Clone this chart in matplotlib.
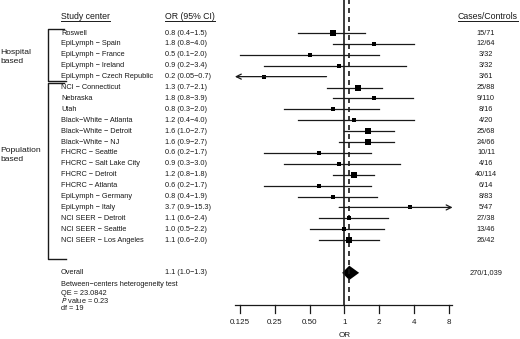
import matplotlib
matplotlib.use("Agg")
import matplotlib.pyplot as plt
from matplotlib import transforms
from matplotlib.lines import Line2D
import numpy as np

plt.rcParams["font.family"] = ["Liberation Sans", "DejaVu Sans"]

# --- data ---
centers = [
    "Roswell", "EpiLymph − Spain", "EpiLymph − France", "EpiLymph − Ireland",
    "EpiLymph − Czech Republic", "NCI − Connecticut", "Nebraska", "Utah",
    "Black−White − Atlanta", "Black−White − Detroit", "Black−White − NJ",
    "FHCRC − Seattle", "FHCRC − Salt Lake City", "FHCRC − Detroit",
    "FHCRC − Atlanta", "EpiLymph − Germany", "EpiLymph − Italy",
    "NCI SEER − Detroit", "NCI SEER − Seattle", "NCI SEER − Los Angeles",
]
odds = [0.8, 1.8, 0.5, 0.9, 0.2, 1.3, 1.8, 0.8, 1.2, 1.6, 1.6, 0.6, 0.9, 1.2,
        0.6, 0.8, 3.7, 1.1, 1.0, 1.1]
lower = [0.4, 0.8, 0.1, 0.2, 0.05, 0.7, 0.8, 0.3, 0.4, 1.0, 0.9, 0.2, 0.3, 0.8,
         0.2, 0.4, 0.9, 0.6, 0.5, 0.6]
upper = [1.5, 4.0, 2.0, 3.4, 0.7, 2.1, 3.9, 2.0, 4.0, 2.7, 2.7, 1.7, 3.0, 1.8,
         1.7, 1.9, 15.3, 2.4, 2.2, 2.0]
ci_text = ["0.8 (0.4−1.5)", "1.8 (0.8−4.0)", "0.5 (0.1−2.0)", "0.9 (0.2−3.4)",
           "0.2 (0.05−0.7)", "1.3 (0.7−2.1)", "1.8 (0.8−3.9)", "0.8 (0.3−2.0)",
           "1.2 (0.4−4.0)", "1.6 (1.0−2.7)", "1.6 (0.9−2.7)", "0.6 (0.2−1.7)",
           "0.9 (0.3−3.0)", "1.2 (0.8−1.8)", "0.6 (0.2−1.7)", "0.8 (0.4−1.9)",
           "3.7 (0.9−15.3)", "1.1 (0.6−2.4)", "1.0 (0.5−2.2)", "1.1 (0.6−2.0)"]
cases_controls = ["15/71", "12/64", "3/32", "3/32", "3/61", "25/88", "9/110",
                  "8/16", "4/20", "25/68", "24/66", "10/11", "4/16", "40/114",
                  "6/14", "8/83", "5/47", "27/38", "13/46", "26/42"]
# box side in pixels (study weight)
weights = [5.2, 4.3, 3.3, 3.6, 3.2, 6.0, 5.0, 4.3, 3.8, 6.0, 5.7, 4.0, 3.6, 6.6,
           3.8, 4.6, 3.2, 4.6, 4.3, 5.3]

overall_or, overall_lo, overall_hi = 1.1, 1.0, 1.3
overall_text = "1.1 (1.0−1.3)"
overall_cc = "270/1,039"
hetero_lines = ["Between−centers heterogeneity test", "QE = 23.0842",
                r"$\it{P}$ value = 0.23", "df = 19"]
ticks = [0.125, 0.25, 0.5, 1, 2, 4, 8]
tick_labels = ["0.125", "0.25", "0.50", "1", "2", "4", "8"]

W, H = 520, 339
fig = plt.figure(figsize=(W / 100, H / 100), dpi=100)
ax = fig.add_axes([0, 0, 1, 1])
ax.set_xscale("log", base=2)
ax.set_xlim(2 ** -9.89, 2 ** 5.04)
ax.set_ylim(28.07, -3.03)
ax.axis("off")

# x in figure pixels, y in row units
tr = transforms.blended_transform_factory(
    transforms.Affine2D().scale(1 / W, 1) + fig.transFigure, ax.transData)

ink = "#1a1a1a"
fs = 5.3
rows = np.arange(len(centers))
xmin, xmax = ticks[0], ticks[-1]
y_axis = 24.95
y_overall = 22

# reference lines
ax.plot([1, 1], [-3.1, y_axis], color=ink, lw=1.2)
ax.plot([overall_or, overall_or], [-3.1, y_axis], color=ink, lw=1.2,
        ls=(0, (3, 2.4)))

for r, est, lo, hi, w in zip(rows, odds, lower, upper, weights):
    lo_c, hi_c = max(lo, xmin), min(hi, xmax)
    if lo < xmin * 0.6:
        ax.annotate("", xy=(0.113, r), xytext=(hi, r),
                    arrowprops=dict(arrowstyle="->", lw=0.9, color=ink,
                                    mutation_scale=9, shrinkA=0, shrinkB=0))
    elif hi > xmax:
        ax.annotate("", xy=(8.6, r), xytext=(lo, r),
                    arrowprops=dict(arrowstyle="->", lw=0.9, color=ink,
                                    mutation_scale=9, shrinkA=0, shrinkB=0))
    else:
        ax.plot([lo_c, hi_c], [r, r], color=ink, lw=0.9)
    ax.plot(est, r, marker="s", ms=w / 1.39, color="black", mec="black", mew=0)

# overall diamond
dh = 0.66
ax.fill([overall_lo * 0.955, overall_or, overall_hi * 1.03, overall_or],
        [y_overall, y_overall - dh, y_overall, y_overall + dh],
        color="black", lw=0)

# x axis
ax.plot([2 ** -3.14, 2 ** 3.08], [y_axis, y_axis], color=ink, lw=0.9)
for t, lab in zip(ticks, tick_labels):
    ax.plot([t, t], [y_axis, y_axis + 0.75], color=ink, lw=0.9)
    ax.text(t, 26.6, lab, ha="center", va="center", fontsize=5.8, color=ink)
ax.text(1, 27.75, "OR", ha="center", va="center", fontsize=5.9, color=ink)

# text columns
for r, name, ci, cc in zip(rows, centers, ci_text, cases_controls):
    ax.text(61, r, name, transform=tr, ha="left", va="center", fontsize=fs,
            color=ink)
    ax.text(165, r, ci, transform=tr, ha="left", va="center", fontsize=fs,
            color=ink)
    ax.text(486, r, cc, transform=tr, ha="center", va="center", fontsize=fs,
            color=ink)
ax.text(61, y_overall, "Overall", transform=tr, ha="left", va="center",
        fontsize=fs, color=ink)
ax.text(165, y_overall, overall_text, transform=tr, ha="left", va="center",
        fontsize=fs, color=ink)
ax.text(486, y_overall, overall_cc, transform=tr, ha="center", va="center",
        fontsize=fs, color=ink)
for yy, line in zip([23.1, 23.85, 24.55, 25.25], hetero_lines):
    ax.text(61, yy, line, transform=tr, ha="left", va="center", fontsize=fs,
            color=ink)

# headers, underlined
heads = [
    ax.text(61, -1.56, "Study center", transform=tr, ha="left", va="center",
            fontsize=6.3, color=ink),
    ax.text(165, -1.56, "OR (95% CI)", transform=tr, ha="left", va="center",
            fontsize=6.3, color=ink),
    ax.text(488, -1.56, "Cases/Controls", transform=tr, ha="center",
            va="center", fontsize=6.3, color=ink),
]
fig.canvas.draw()
for h in heads:
    bb = h.get_window_extent()
    fig.add_artist(Line2D([bb.x0 / W, bb.x1 / W],
                          [(H - 20.5) / H, (H - 20.5) / H],
                          transform=fig.transFigure, color=ink, lw=0.7))

# group brackets
for top, bot in [(-0.37, 4.4), (4.6, 20.7)]:
    ax.plot([64, 48, 48, 66], [top, top, bot, bot], transform=tr, color=ink,
            lw=1.0)
ax.text(0, 2.2, "Hospital\nbased", transform=tr, ha="left", va="center",
        fontsize=6.1, color=ink, linespacing=1.25)
ax.text(0, 11.2, "Population\nbased", transform=tr, ha="left", va="center",
        fontsize=6.1, color=ink, linespacing=1.25)

fig.savefig("out.png", dpi=100, facecolor="white")
